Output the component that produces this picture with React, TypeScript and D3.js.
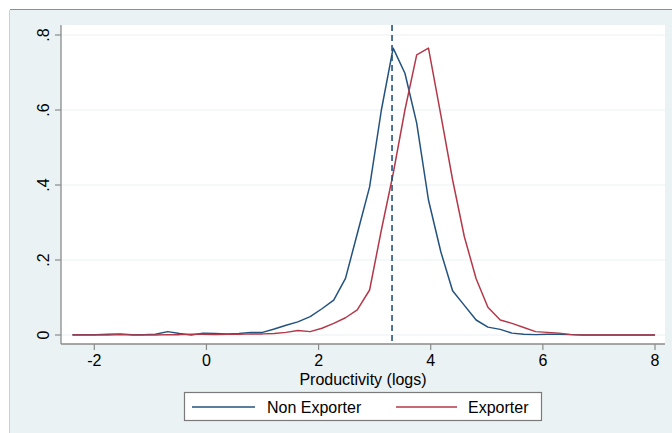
import React from "react";
import * as d3 from "d3";

const xValues = [
  -2.39, -2.18, -1.97, -1.75, -1.54, -1.33, -1.12, -0.91, -0.69, -0.48,
  -0.27, -0.06, 0.15, 0.37, 0.58, 0.79, 1.0, 1.21, 1.42, 1.63,
  1.85, 2.06, 2.27, 2.48, 2.69, 2.91, 3.12, 3.33, 3.54, 3.75,
  3.96, 4.18, 4.39, 4.6, 4.81, 5.02, 5.24, 5.45, 5.66, 5.87,
  6.08, 6.29, 6.51, 6.72, 6.93, 7.14, 7.36, 7.57, 7.78, 8.0,
];

const nonExporter = [
  0.001, 0.001, 0.001, 0.002, 0.003, 0.001, 0.001, 0.002, 0.009, 0.004,
  0.0, 0.005, 0.004, 0.003, 0.004, 0.007, 0.007, 0.016, 0.026, 0.035,
  0.049, 0.07, 0.093, 0.151, 0.27, 0.395, 0.6, 0.765, 0.698, 0.565,
  0.36, 0.222, 0.118, 0.079, 0.04, 0.021, 0.015, 0.005, 0.002, 0.001,
  0.002, 0.002, 0.001, 0.0, 0.0, 0.0, 0.0, 0.0, 0.0, 0.0,
];

const exporter = [
  0.0, 0.0, 0.0, 0.0, 0.001, 0.0, 0.0, 0.0, 0.001, 0.001,
  0.002, 0.002, 0.001, 0.002, 0.002, 0.003, 0.003, 0.004, 0.007, 0.012,
  0.009, 0.018, 0.031, 0.046, 0.067, 0.12, 0.28, 0.43, 0.6, 0.747,
  0.765, 0.587, 0.414, 0.262, 0.15, 0.074, 0.04, 0.031, 0.02, 0.009,
  0.007, 0.005, 0.001, 0.0, 0.0, 0.0, 0.0, 0.0, 0.0, 0.0,
];

const xTicks = [-2, 0, 2, 4, 6, 8];
const yTicks = [0, 0.2, 0.4, 0.6, 0.8];
const yTickLabels = ["0", ".2", ".4", ".6", ".8"];
const meanLine = 3.31;
const xTitle = "Productivity (logs)";
const legendLabels = ["Non Exporter", "Exporter"];

const BLUE = "#24527f";
const RED = "#b3394a";
const BG = "#eaf2f3";
const FONT = "'Liberation Sans', Arial, Helvetica, sans-serif";

export default function App() {
  const W = 672;
  const H = 433;
  const plotLeft = 61;
  const plotRight = 665;
  const plotTop = 25;
  const plotBottom = 344;

  const x = d3.scaleLinear().domain([-2, 8]).range([94.3, 655]);
  const y = d3.scaleLinear().domain([0, 0.8]).range([335, 35]);

  const line = d3
    .line<number>()
    .x((_, i) => x(xValues[i]))
    .y((d) => y(d));

  return (
    <svg
      width={W}
      height={H}
      style={{ position: "absolute", left: 0, top: 0, display: "block" }}
      fontFamily={FONT}
    >
      <rect x={0} y={0} width={W} height={H} fill="#ffffff" />
      <rect x={10} y={10} width={W - 10} height={H - 10} fill={BG} />
      <line x1={10} x2={W} y1={9.5} y2={9.5} stroke="#8f8f8f" strokeWidth={1.2} />
      <line x1={9.5} x2={9.5} y1={10} y2={H} stroke="#c9d3d6" strokeWidth={1} />

      <rect
        x={plotLeft}
        y={plotTop}
        width={plotRight - plotLeft}
        height={plotBottom - plotTop}
        fill="#ffffff"
      />

      {yTicks.map((t) => (
        <line
          key={"g" + t}
          x1={plotLeft}
          x2={plotRight}
          y1={y(t)}
          y2={y(t)}
          stroke={BG}
          strokeWidth={1.2}
        />
      ))}

      <path d={line(nonExporter) || ""} fill="none" stroke={BLUE} strokeWidth={1.5} strokeLinejoin="round" />
      <path d={line(exporter) || ""} fill="none" stroke={RED} strokeWidth={1.5} strokeLinejoin="round" />

      <line
        x1={x(meanLine)}
        x2={x(meanLine)}
        y1={plotTop}
        y2={plotBottom}
        stroke={BLUE}
        strokeWidth={1.6}
        strokeDasharray="6,4"
      />

      <line x1={plotLeft} x2={plotLeft} y1={plotTop} y2={plotBottom} stroke="#8a8a8a" strokeWidth={1.3} />
      <line x1={plotLeft} x2={plotRight} y1={plotBottom} y2={plotBottom} stroke="#8a8a8a" strokeWidth={1.3} />

      {yTicks.map((t, i) => (
        <g key={"y" + t}>
          <line x1={plotLeft - 6} x2={plotLeft} y1={y(t)} y2={y(t)} stroke="#8a8a8a" strokeWidth={1.2} />
          <text
            transform={`translate(48.5,${y(t)}) rotate(-90)`}
            textAnchor="middle"
            fontSize={16}
            fill="#000"
          >
            {yTickLabels[i]}
          </text>
        </g>
      ))}

      {xTicks.map((t) => (
        <g key={"x" + t}>
          <line x1={x(t)} x2={x(t)} y1={plotBottom} y2={plotBottom + 6} stroke="#8a8a8a" strokeWidth={1.2} />
          <text x={x(t)} y={366} textAnchor="middle" fontSize={16} fill="#000">
            {t}
          </text>
        </g>
      ))}

      <text x={363} y={385} textAnchor="middle" fontSize={16} fill="#000">
        {xTitle}
      </text>

      <rect x={184.5} y={392.5} width={357} height={28} fill="#ffffff" stroke="#7a7a7a" strokeWidth={1.2} />
      <line x1={192} x2={255} y1={407} y2={407} stroke={BLUE} strokeWidth={1.5} />
      <text x={267} y={412.5} fontSize={16} fill="#000">
        {legendLabels[0]}
      </text>
      <line x1={396} x2={457} y1={407} y2={407} stroke={RED} strokeWidth={1.5} />
      <text x={468} y={412.5} fontSize={16} fill="#000">
        {legendLabels[1]}
      </text>
    </svg>
  );
}
